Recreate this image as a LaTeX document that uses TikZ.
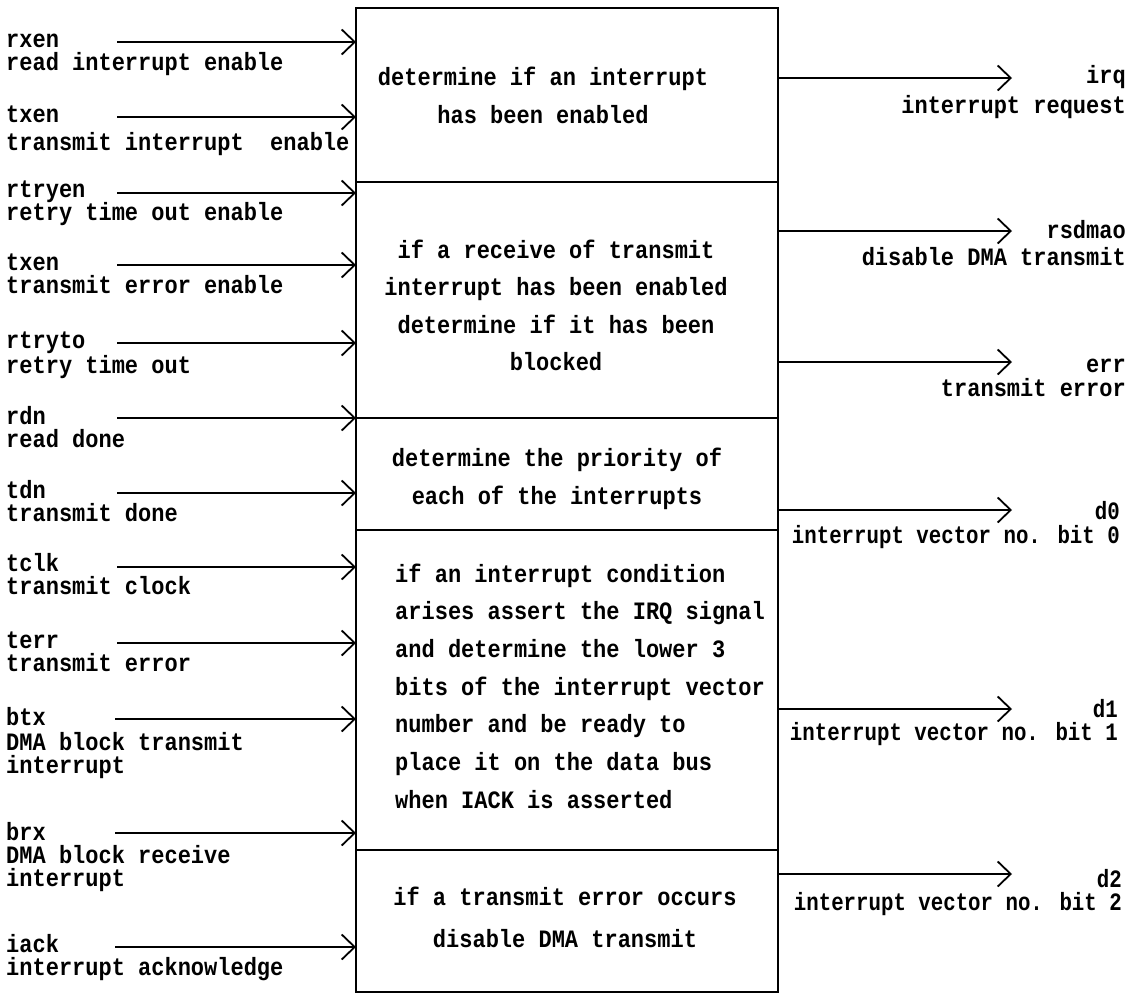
\documentclass[tikz,border=0pt]{standalone}
\usepackage{fontspec}
\usepackage{array}
\newfontfamily\sigfont{Liberation Mono}[FakeStretch=0.88]
\newfontfamily\sigfontn{Liberation Mono}[FakeStretch=0.83]
\usetikzlibrary{arrows.meta}
% cells whose height is ignored, so rows sit exactly one baselineskip apart
\newcolumntype{L}{>{\setbox0=\hbox\bgroup}l<{\egroup\ht0=0pt \dp0=0pt \box0}}
\newcolumntype{C}{>{\setbox0=\hbox\bgroup}c<{\egroup\ht0=0pt \dp0=0pt \box0}}
\newcolumntype{R}{>{\setbox0=\hbox\bgroup}r<{\egroup\ht0=0pt \dp0=0pt \box0}}
% stacked lines whose baseline is the first line's
\newcommand{\stackrows}[2]{\begin{tabular}[t]{@{}#1@{}}#2\end{tabular}}
\begin{document}
\begin{tikzpicture}[x=1pt,y=-1pt,
  block/.style={draw, line width=2pt, inner sep=0pt, outer sep=0pt, minimum width=422pt, anchor=north west},
  sig/.style={line width=1.8pt, -{Straight Barb[length=13pt,width=25pt,line width=1.8pt]}},
  txt/.style={inner sep=0pt, font={\sigfont\fontsize{25}{#1}\selectfont\bfseries}},
  txt/.default=23,
  txtn/.style={inner sep=0pt, font={\sigfontn\fontsize{25}{23}\selectfont\bfseries}}]
\useasboundingbox (0,0) rectangle (1133,1001);

% the five stacked function blocks
\node[block, minimum height=174pt] (b1) at (356,8) {};
\node[block, minimum height=236pt] (b2) at (b1.south west) {};
\node[block, minimum height=112pt] (b3) at (b2.south west) {};
\node[block, minimum height=320pt] (b4) at (b3.south west) {};
\node[block, minimum height=142pt] (b5) at (b4.south west) {};

% block descriptions
\node[txt=38, anchor=base] (t1) at (543,85)
  {\stackrows{C}{determine if an interrupt\\has been enabled}};
\node[txt=37.5, anchor=base] (t2) at (556,258)
  {\stackrows{C}{if a receive of transmit\\interrupt has been enabled\\determine if it has been\\blocked}};
\node[txt=38.5, anchor=base] (t3) at (557,466)
  {\stackrows{C}{determine the priority of\\each of the interrupts}};
\node[txt=37.7, anchor=base west] (t4) at (395,582)
  {\stackrows{L}{if an interrupt condition\\arises assert the IRQ signal\\and determine the lower 3\\bits of the interrupt vector\\number and be ready to\\place it on the data bus\\when IACK is asserted}};
\node[txt=42, anchor=base] (t5) at (565,905)
  {\stackrows{C}{if a transmit error occurs\\disable DMA transmit}};

% input signals
\node[txt, anchor=base west] (rxen) at (6,47) {\stackrows{L}{rxen\\read interrupt enable}};
\node[txt, anchor=base west] (txen) at (6,122) {\stackrows{L}{txen\\[5pt]transmit interrupt\ \ enable}};
\node[txt, anchor=base west] (rtryen) at (6,197) {\stackrows{L}{rtryen\\retry time out enable}};
\node[txt, anchor=base west] (txerren) at (6,270) {\stackrows{L}{txen\\transmit error enable}};
\node[txt, anchor=base west] (rtryto) at (6,348) {\stackrows{L}{rtryto\\[2pt]retry time out}};
\node[txt, anchor=base west] (rdn) at (6,424) {\stackrows{L}{rdn\\read done}};
\node[txt, anchor=base west] (tdn) at (6,498) {\stackrows{L}{tdn\\transmit done}};
\node[txt, anchor=base west] (tclk) at (6,571) {\stackrows{L}{tclk\\transmit clock}};
\node[txt, anchor=base west] (terr) at (6,648) {\stackrows{L}{terr\\transmit error}};
\node[txt, anchor=base west] (btx) at (6,725) {\stackrows{L}{btx\\[2pt]DMA block transmit\\interrupt}};
\node[txt, anchor=base west] (brx) at (6,840) {\stackrows{L}{brx\\DMA block receive\\interrupt}};
\node[txt, anchor=base west] (iack) at (6,952) {\stackrows{L}{iack\\interrupt acknowledge}};

\coordinate (rxen-s) at (117,42);
\coordinate (txen-s) at (117,117);
\coordinate (rtryen-s) at (117,193);
\coordinate (txerren-s) at (117,265);
\coordinate (rtryto-s) at (117,343);
\coordinate (rdn-s) at (117,418);
\coordinate (tdn-s) at (117,493);
\coordinate (tclk-s) at (117,567);
\coordinate (terr-s) at (117,643);
\coordinate (btx-s) at (115,719);
\coordinate (brx-s) at (115,833);
\coordinate (iack-s) at (115,947);

\draw[sig] (rxen-s) -- (rxen-s -| b1.west);
\draw[sig] (txen-s) -- (txen-s -| b1.west);
\draw[sig] (rtryen-s) -- (rtryen-s -| b2.west);
\draw[sig] (txerren-s) -- (txerren-s -| b2.west);
\draw[sig] (rtryto-s) -- (rtryto-s -| b2.west);
\draw[sig] (rdn-s) -- (rdn-s -| b3.west);
\draw[sig] (tdn-s) -- (tdn-s -| b3.west);
\draw[sig] (tclk-s) -- (tclk-s -| b4.west);
\draw[sig] (terr-s) -- (terr-s -| b4.west);
\draw[sig] (btx-s) -- (btx-s -| b4.west);
\draw[sig] (brx-s) -- (brx-s -| b4.west);
\draw[sig] (iack-s) -- (iack-s -| b5.west);

% output signals
\coordinate (irq-e) at (1012,78);
\coordinate (rsdmao-e) at (1012,231);
\coordinate (err-e) at (1012,362);
\coordinate (d0-e) at (1012,510);
\coordinate (d1-e) at (1012,709);
\coordinate (d2-e) at (1012,874);

\draw[sig] (b1.east |- irq-e) -- (irq-e);
\draw[sig] (b2.east |- rsdmao-e) -- (rsdmao-e);
\draw[sig] (b2.east |- err-e) -- (err-e);
\draw[sig] (b3.east |- d0-e) -- (d0-e);
\draw[sig] (b4.east |- d1-e) -- (d1-e);
\draw[sig] (b5.east |- d2-e) -- (d2-e);

\node[txt, anchor=base east] (irq) at (1126,83) {\stackrows{R}{irq\\[7pt]interrupt request}};
\node[txt, anchor=base east] (rsdmao) at (1126,238) {\stackrows{R}{rsdmao\\[4pt]disable DMA transmit}};
\node[txt, anchor=base east] (err) at (1126,372) {\stackrows{R}{err\\[1pt]transmit error}};
\node[txtn, anchor=base east] (d0) at (1120,519) {\stackrows{R}{d0\\[1pt]interrupt vector no. bit 0}};
\node[txtn, anchor=base east] (d1) at (1118,717) {\stackrows{R}{d1\\interrupt vector no. bit 1}};
\node[txtn, anchor=base east] (d2) at (1122,887) {\stackrows{R}{d2\\interrupt vector no. bit 2}};
\end{tikzpicture}
\end{document}
